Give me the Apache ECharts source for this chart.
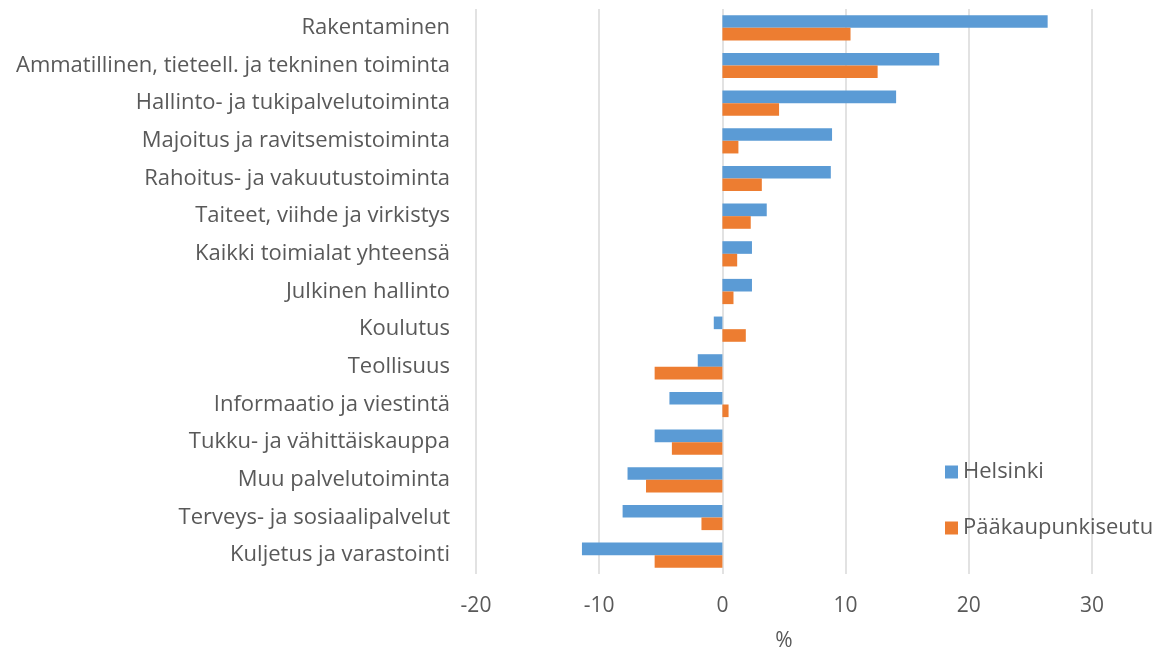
<!DOCTYPE html>
<html>
<head>
<meta charset="utf-8">
<script src="https://cdn.jsdelivr.net/npm/echarts@6/dist/echarts.min.js"></script>
<style>
  html, body { margin: 0; padding: 0; background: #fff; }
  #chart { width: 1160px; height: 647px; }
</style>
</head>
<body>
<div id="chart"></div>
<script>
// Categories, top to bottom
const categories = [
    'Rakentaminen',
    'Ammatillinen, tieteell. ja tekninen toiminta',
    'Hallinto- ja tukipalvelutoiminta',
    'Majoitus ja ravitsemistoiminta',
    'Rahoitus- ja vakuutustoiminta',
    'Taiteet, viihde ja virkistys',
    'Kaikki toimialat yhteensä',
    'Julkinen hallinto',
    'Koulutus',
    'Teollisuus',
    'Informaatio ja viestintä',
    'Tukku- ja vähittäiskauppa',
    'Muu palvelutoiminta',
    'Terveys- ja sosiaalipalvelut',
    'Kuljetus ja varastointi'
];

const helsinki = [26.4, 17.6, 14.1, 8.9, 8.8, 3.6, 2.4, 2.4, -0.7, -2.0, -4.3, -5.5, -7.7, -8.1, -11.4];
const paakaupunkiseutu = [10.4, 12.6, 4.6, 1.3, 3.2, 2.3, 1.2, 0.9, 1.9, -5.5, 0.5, -4.1, -6.2, -1.7, -5.5];

const seriesNames = ['Helsinki', 'Pääkaupunkiseutu'];

const FONT = '"Open Sans", sans-serif';
const TEXT = '#595959';

let chart = echarts.init(document.getElementById('chart'));

chart.setOption({
    color: ['#5B9BD5', '#ED7D31'],
    textStyle: { fontFamily: FONT },
    animation: false,

    legend: {
        orient: 'vertical',
        left: 940,
        top: 455,
        itemWidth: 13,
        itemHeight: 13,
        itemGap: 32,
        icon: 'rect',
        data: seriesNames,
        textStyle: { fontSize: 22, lineHeight: 24, color: TEXT }
    },

    grid: { left: 476, right: 68, top: 9, bottom: 73, outerBoundsMode: 'none' },

    xAxis: {
        type: 'value',
        min: -20,
        max: 30,
        interval: 10,
        name: '%',
        nameLocation: 'middle',
        nameGap: 57,
        nameTextStyle: { fontSize: 21, color: TEXT },
        axisLine: { show: false },
        axisTick: { show: false },
        axisLabel: { fontSize: 21, color: TEXT, margin: 22 },
        splitLine: { lineStyle: { color: '#D9D9D9', width: 1.5 } }
    },

    yAxis: {
        type: 'category',
        data: categories,
        inverse: true,
        axisLine: { show: false },
        axisTick: { show: false },
        axisLabel: { fontSize: 22, color: TEXT, margin: 26 }
    },

    series: [
        {
            name: seriesNames[0],
            type: 'bar',
            data: helsinki,
            barGap: '0%',
            barCategoryGap: '33%'
        },
        {
            name: seriesNames[1],
            type: 'bar',
            data: paakaupunkiseutu,
            barGap: '0%',
            barCategoryGap: '33%'
        }
    ]
});
</script>
</body>
</html>
